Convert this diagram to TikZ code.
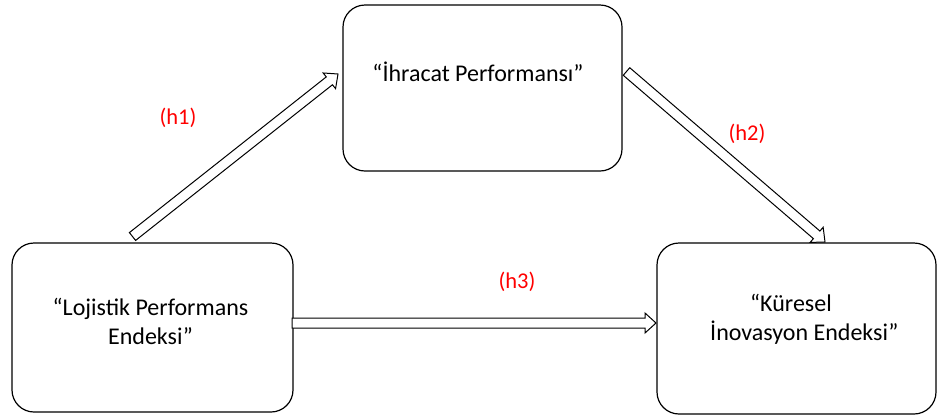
\documentclass[tikz,border=0pt]{standalone}
\usepackage{fontspec}
\setmainfont{Carlito}
\usetikzlibrary{calc}
\tikzset{
  box/.style={draw, line width=1.2pt, rounded corners=22pt, inner sep=0pt},
  txt/.style={font=\fontsize{24}{29}\selectfont, inner sep=0pt, align=center},
  hlab/.style={font=\fontsize{22.5}{27}\selectfont, text=red, inner sep=0pt},
  barrow/.style={draw, line width=1pt, fill=white, line join=miter}
}
\newcommand\blockarr[2]{%
  \coordinate (#2-n) at ($(#2)!11pt!(#1)$);
  \draw[barrow] ($(#1)!5pt!90:(#2)$) -- ($(#2-n)!5pt!90:(#2)$) -- ($(#2-n)!10pt!90:(#2)$) -- (#2)
     -- ($(#2-n)!10pt!-90:(#2)$) -- ($(#2-n)!5pt!-90:(#2)$) -- ($(#1)!5pt!-90:(#2)$) -- cycle;
}
\begin{document}
\begin{tikzpicture}[x=1pt,y=-1pt]
\useasboundingbox[fill=white] (0,0) rectangle (938,416);
% boxes
\node[box, minimum width=279pt, minimum height=166pt] (A) at (482.5,88) {};
\node[box, minimum width=281pt, minimum height=169pt] (L) at (152.5,327.5) {};
\node[box, minimum width=279pt, minimum height=171pt] (K) at (796.5,328.5) {};
% texts
\node[txt] (Atxt) at (478,72) {“İhracat Performansı”};
\node[txt] (Ltxt) at (150.5,321) {“Lojistik Performans\\Endeksi”};
\node[txt, align=left, anchor=west] (Ktxt) at (710,319) {\hspace*{40pt}“Küresel\\İnovasyon Endeksi”};
% arrows
\coordinate (h1a) at (132.5,236.5);
\coordinate (h1b) at (338,74);
\coordinate (h2a) at (626.5,71.5);
\coordinate (h2b) at (825,242);
\coordinate (h3a) at (292,323);
\coordinate (h3b) at (656,323);
\blockarr{h1a}{h1b}
\blockarr{h2a}{h2b}
\blockarr{h3a}{h3b}
% labels
\node[hlab] (l1) at (178,118) {(h1)};
\node[hlab] (l2) at (747,134) {(h2)};
\node[hlab] (l3) at (517,282) {(h3)};
\end{tikzpicture}
\end{document}
